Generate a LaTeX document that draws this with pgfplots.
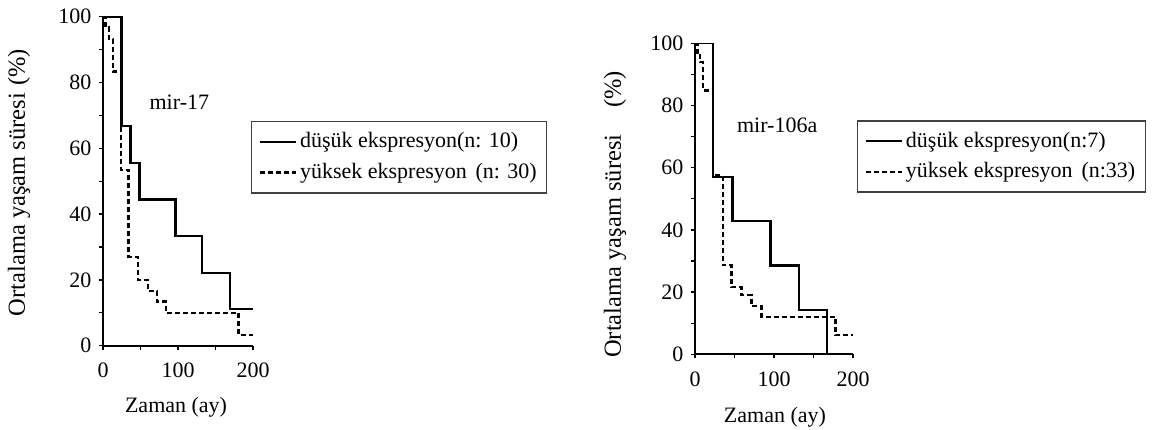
\documentclass[border=0pt]{standalone}
\usepackage{pgfplots}
\pgfplotsset{compat=1.18}
\usepackage{fontspec}
\setmainfont{Liberation Serif}
\newcommand{\ff}{\fontsize{22bp}{26bp}\selectfont}
\newcommand{\fy}{\fontsize{24.5bp}{28bp}\selectfont}
\begin{document}
\ff
\begin{tikzpicture}
\useasboundingbox (0,0) rectangle (1158bp,430bp);
\pgfplotsset{
  km/.style={
    scale only axis, xmin=0, xmax=200, ymin=0, ymax=100,
    axis x line=bottom, axis y line=left,
    axis line style={line width=1.8bp,-},
    xtick={0,100,200}, minor xtick={50,150},
    ytick={0,20,...,100}, minor ytick={10,30,...,90},
    tick align=outside, major tick length=4bp, minor tick length=4bp,
    every tick/.style={line width=1.3bp, black},
    tick label style={font=\ff},
    xticklabel style={yshift=-6bp},
    /pgf/number format/assume math mode=true,
    xlabel style={font=\ff},
    ylabel style={font=\fy},
    legend style={draw=black!75, line width=1.4bp, font=\ff,
      inner xsep=7bp, inner ysep=8bp, row sep=6bp,
      nodes={inner xsep=3bp, inner ysep=3bp}},
    legend cell align=left,
    legend image code/.code={\draw[#1] (0bp,0bp) -- (36bp,0bp);},
    solidl/.style={black, line width=2.3bp, const plot},
    dashl/.style={black, line width=2.3bp, const plot, dash pattern=on 5bp off 3bp},
  }
}
\begin{axis}[km, at={(103bp,84.3bp)}, anchor=south west, width=150bp, height=329bp,
  xlabel={Zaman (ay)}, ylabel={Ortalama yaşam süresi\hspace{0.3em}(\%)},
  xlabel style={at={(axis description cs:0.487,-0.186)}, anchor=center},
  ylabel style={at={(axis description cs:-0.56,0.496)}, anchor=center},
  legend style={at={(axis description cs:0.987,0.683)}, anchor=north west}]
\addplot[solidl] coordinates {(0,100) (24.5,66.7) (36.5,55.6) (48.5,44.4) (96.5,33.3) (132,22.2) (169,11.1) (200,11.1)};
\addlegendentry{düşük ekspresyon(n: 10)}
\addplot[dashl] coordinates {(0,100) (3.5,96.7) (8,93.3) (13.5,83.3) (24,53.4) (34,26.9) (46.5,20) (60,16.7) (72,13.4) (84,10) (180.5,3.3) (200,3.3)};
\addlegendentry{yüksek ekspresyon\hspace{0.4em}(n: 30)}
\node at (axis cs:101.8,74) {mir-17};
\end{axis}
\begin{axis}[km, at={(695bp,75.7bp)}, anchor=south west, width=158bp, height=311bp,
  xlabel={Zaman (ay)}, ylabel={Ortalama yaşam süresi\hspace{1.1em}(\%)},
  xlabel style={at={(axis description cs:0.506,-0.2016)}, anchor=center},
  ylabel style={at={(axis description cs:-0.506,0.45)}, anchor=center},
  legend style={at={(axis description cs:1.025,0.753)}, anchor=north west}]
\addplot[solidl] coordinates {(0,100) (23,57.1) (47.5,42.9) (95.6,28.6) (131.8,14.3) (167,0)};
\addlegendentry{düşük ekspresyon(n:7)}
\addplot[dashl] coordinates {(0,100) (3,97) (6.5,93.9) (10.5,84.8) (23,57.6) (35,28.7) (46.3,21.7) (58.9,19) (71.6,15.5) (84.2,12.1) (178,6.2) (200,6.2)};
\addlegendentry{yüksek ekspresyon\hspace{0.4em}(n:33)}
\node at (axis cs:104,73.7) {mir-106a};
\end{axis}
\end{tikzpicture}
\end{document}
